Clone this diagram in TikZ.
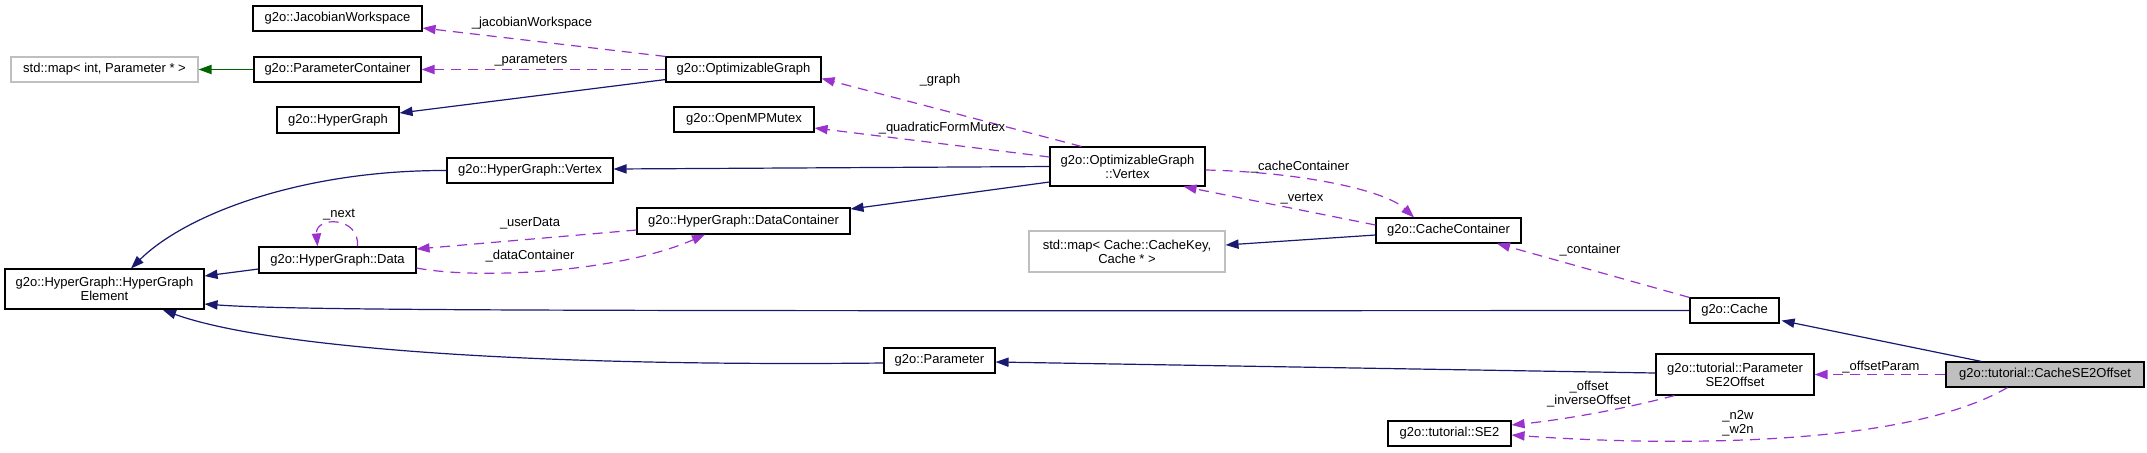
\documentclass[tikz,border=0pt]{standalone}
\usepackage{fontspec}
\setmainfont{Liberation Sans}
\usetikzlibrary{arrows.meta,calc}
\definecolor{navy}{HTML}{191970}
\definecolor{orch}{HTML}{9A32CD}
\definecolor{dgreen}{HTML}{006400}
\definecolor{extgray}{HTML}{BFBFBF}
\begin{document}
\begin{tikzpicture}[x=0.5pt,y=-0.5pt,
  font=\fontsize{6.5}{7}\selectfont,
  box/.style={draw=black,line width=0.55pt,fill=white,inner sep=0pt,align=center},
  ext/.style={box,draw=extgray},
  cur/.style={box,fill=extgray},
  inh/.style={draw=navy,line width=0.6pt,-{Triangle[length=6.5pt,width=4.6pt]}},
  usee/.style={draw=orch,line width=0.6pt,dash pattern=on 5pt off 3.5pt,-{Triangle[length=6.5pt,width=4.6pt]}},
  tmpl/.style={draw=dgreen,line width=0.6pt,-{Triangle[length=6.5pt,width=4.6pt]}},
  lbl/.style={inner sep=0pt,align=center}]
\path[use as bounding box,fill=white] (0,0) rectangle (2147,452);

% nodes
\node[box,minimum width=84.5pt,minimum height=12.5pt] (jw) at (337.5,18.5) {g2o::JacobianWorkspace};
\node[ext,minimum width=93.5pt,minimum height=12.5pt] (mapint) at (104.5,69.5) {std::map< int, Parameter * >};
\node[box,minimum width=83.5pt,minimum height=12.5pt] (pc) at (337.5,69.5) {g2o::ParameterContainer};
\node[box,minimum width=61pt,minimum height=13pt] (hg) at (338,120) {g2o::HyperGraph};
\node[box,minimum width=77.5pt,minimum height=12.5pt] (og) at (743.5,69.5) {g2o::OptimizableGraph};
\node[box,minimum width=70pt,minimum height=12.5pt] (omp) at (744,119.5) {g2o::OpenMPMutex};
\node[box,minimum width=77.5pt,minimum height=19.5pt] (ov) at (1127.5,166.5) {g2o::OptimizableGraph\\::Vertex};
\node[box,minimum width=83pt,minimum height=12.5pt] (hgv) at (530,170.5) {g2o::HyperGraph::Vertex};
\node[box,minimum width=106.5pt,minimum height=13pt] (dc) at (743.5,221) {g2o::HyperGraph::DataContainer};
\node[box,minimum width=78.5pt,minimum height=13pt] (data) at (337.5,260) {g2o::HyperGraph::Data};
\node[box,minimum width=99.5pt,minimum height=20pt] (hge) at (104.5,289) {g2o::HyperGraph::HyperGraph\\Element};
\node[ext,minimum width=98pt,minimum height=20.5pt] (mapck) at (1127,251.5) {std::map< Cache::CacheKey,\\Cache * >};
\node[box,minimum width=72.5pt,minimum height=12.5pt] (cc) at (1448.5,230.5) {g2o::CacheContainer};
\node[box,minimum width=44.5pt,minimum height=12.5pt] (cache) at (1734.5,310.5) {g2o::Cache};
\node[box,minimum width=55.5pt,minimum height=12.5pt] (param) at (939.5,360.5) {g2o::Parameter};
\node[box,minimum width=79pt,minimum height=20.5pt] (pse2) at (1735,374.5) {g2o::tutorial::Parameter\\SE2Offset};
\node[cur,minimum width=99pt,minimum height=12.5pt] (cse2) at (2045,374.5) {g2o::tutorial::CacheSE2Offset};
\node[box,minimum width=61.5pt,minimum height=12.5pt] (se2) at (1449.5,433.5) {g2o::tutorial::SE2};

% edges
\draw[tmpl] (pc.west) -- (mapint.east);
\draw[inh] ($(og.south west)+(0,-3)$) -- ($(hg.east)+(0,-7)$);
\draw[usee] (og.north west) -- ($(jw.east)+(0,9.5)$);
\draw[usee] (og.west) -- (pc.east);
\draw[usee] ($(ov.north west)+(32,0)$) -- ($(og.east)+(0,9)$);
\draw[usee] ($(ov.west)+(0,-9.5)$) -- ($(omp.east)+(0,8.5)$);
\draw[inh] (ov.west) -- ($(hgv.east)+(0,-1.5)$);
\draw[inh] ($(ov.west)+(0,15.5)$) -- ($(dc.east)+(0,-12)$);
\draw[inh] (hgv.west) .. controls (300,170) and (185,215) .. ($(hge.north)+(26.5,0)$);
\draw[inh] ($(data.west)+(0,9)$) -- ($(hge.east)+(0,-13)$);
\draw[usee] ($(data.north)+(20,0)$) .. controls (360,216) and (315,216) .. ($(data.north)+(-20,0)$);
\draw[usee] ($(dc.west)+(0,9)$) -- ($(data.east)+(0,-11)$);
\draw[usee] ($(data.east)+(0,8)$) .. controls (480,280) and (620,272) .. ($(dc.south)+(-38.5,0)$);
\draw[usee] ($(ov.east)+(0,3.5)$) .. controls (1300,172) and (1385,190) .. ($(cc.north)+(-34.5,0)$);
\draw[usee] ($(cc.west)+(0,-5.5)$) -- ($(ov.south east)+(-22,0)$);
\draw[inh] ($(cc.west)+(0,4.5)$) -- ($(mapck.east)+(0,-6.5)$);
\draw[usee] (cache.north west) -- ($(cc.south)+(48.5,0)$);
\draw[inh] (cache.west) .. controls (600,311) and (300,311) .. ($(hge.east)+(0,15)$);
\draw[inh] ($(cse2.north west)+(36,0)$) -- ($(cache.south east)+(2,-3)$);
\draw[inh] ($(pse2.west)+(0,-1.5)$) -- ($(param.east)+(0,1.5)$);
\draw[inh] ($(param.west)+(0,2.5)$) .. controls (500,367) and (260,345) .. ($(hge.south)+(58.5,0.5)$);
\draw[usee] (cse2.west) -- (pse2.east);
\draw[usee] ($(pse2.south west)+(19,0)$) .. controls (1620,410) and (1560,420) .. ($(se2.east)+(0,-8.5)$);
\draw[usee] ($(cse2.south west)+(62,0)$) .. controls (1900,450) and (1650,445) .. ($(se2.east)+(0,1.5)$);

% labels
\node[lbl] (l1) at (532,23) {\_jacobianWorkspace};
\node[lbl] (l2) at (531,61) {\_parameters};
\node[lbl] (l3) at (940,80) {\_graph};
\node[lbl] (l4) at (942,128) {\_quadraticFormMutex};
\node[lbl] (l5) at (339,215) {\_next};
\node[lbl] (l6) at (530,223) {\_userData};
\node[lbl] (l7) at (530,256) {\_dataContainer};
\node[lbl] (l8) at (1300,167) {\_cacheContainer};
\node[lbl] (l9) at (1302,199) {\_vertex};
\node[lbl] (l10) at (1590,250) {\_container};
\node[lbl] (l11) at (1881,367) {\_offsetParam};
\node[lbl] (l12) at (1589,394) {\_offset\\\_inverseOffset};
\node[lbl] (l13) at (1738,423) {\_n2w\\\_w2n};
\end{tikzpicture}
\end{document}
